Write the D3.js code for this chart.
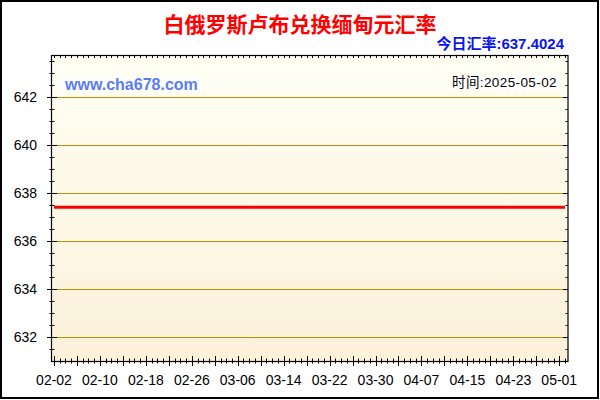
<!DOCTYPE html>
<html>
    <head>
        <meta charset="utf-8">
        <script src="https://d3js.org/d3.v7.min.js"></script>
        <style>
            body{margin:0;background:#fff;}
            text{font-family:"Liberation Sans", Arial, "Noto Sans CJK SC", sans-serif;}
        </style>
    </head>
    <body>
        <svg height="400" width="600" id="chart"></svg>
        <script>
            // data
            const rateDates=["2025-02-02", "2025-05-02"];
            const rateValues=[637.4024, 637.4024];
            const xTickLabels=["02-02","02-10","02-18","02-26","03-06","03-14","03-22","03-30","04-07","04-15","04-23","05-01"];
            const yTickLabels=[632, 634, 636, 638, 640, 642];
            const titleText="白俄罗斯卢布兑换缅甸元汇率";
            const todayText="今日汇率:637.4024";
            const siteText="www.cha678.com";
            const timeText="时间:2025-05-02";

            let svg=d3.select("#chart");
            let plotLeft=52, plotRight=568, plotTop=55, plotBottom=361;
            let parse=d3.timeParse("%Y-%m-%d");

            let x=d3.scaleTime()
                .domain([parse("2025-02-02"), parse("2025-05-02")])
                .range([54, 565]);
            let y=d3.scaleLinear()
                .domain([631, 643.75])
                .range([plotBottom, plotTop]);

            // outer frame
            svg.append("rect")
                .attr("x", 1).attr("y", 1).attr("width", 597).attr("height", 397)
                .style("fill", "#fff").style("stroke", "#000").style("stroke-width", 2);

            let defs=svg.append("defs");
            let grad=defs.append("linearGradient").attr("id", "bg")
                .attr("x1", 0).attr("y1", 0).attr("x2", 0).attr("y2", 1);
            grad.append("stop").attr("offset", "0%").attr("stop-color", "#fffff4");
            grad.append("stop").attr("offset", "100%").attr("stop-color", "#fcf1d9");

            svg.append("rect")
                .attr("x", plotLeft).attr("y", plotTop)
                .attr("width", plotRight-plotLeft).attr("height", plotBottom-plotTop)
                .style("fill", "url(#bg)");

            // grid
            svg.append("g").selectAll("line")
                .data(yTickLabels)
                .join("line")
                .attr("x1", 56).attr("x2", 563)
                .attr("y1", d=>Math.round(y(d))+0.5).attr("y2", d=>Math.round(y(d))+0.5)
                .style("stroke", "#c08c0e").style("stroke-width", 1);

            // ticks
            let days=d3.timeDay.range(parse("2025-02-02"), d3.timeDay.offset(parse("2025-05-02"), 1));
            let halfSteps=d3.range(631.5, 643.75, 0.5);
            let tickG=svg.append("g").style("stroke", "#000").style("stroke-width", 1);

            days.forEach((d,i)=>{
                let px=Math.round(x(d))+0.5;
                let big=i%4==0;
                tickG.append("line").attr("x1", px).attr("x2", px)
                    .attr("y1", plotBottom-(big?5:2.5)).attr("y2", plotBottom+(big?5:2.5));
                tickG.append("line").attr("x1", px).attr("x2", px)
                    .attr("y1", plotTop).attr("y2", plotTop+3);
            });
            halfSteps.forEach(v=>{
                let py=Math.round(y(v))+0.5;
                let big=yTickLabels.includes(v);
                tickG.append("line").attr("y1", py).attr("y2", py)
                    .attr("x1", plotLeft-(big?5:2.5)).attr("x2", plotLeft+(big?5:2.5));
                tickG.append("line").attr("y1", py).attr("y2", py)
                    .attr("x1", plotRight-(big?5:2.5)).attr("x2", plotRight);
            });

            // plot frame
            svg.append("rect")
                .attr("x", plotLeft-0.5).attr("y", plotTop+0.5)
                .attr("width", plotRight-plotLeft+0.5).attr("height", plotBottom-plotTop)
                .style("fill", "none").style("stroke", "#000").style("stroke-width", 1.2);

            // axis labels
            svg.append("g").selectAll("text")
                .data(xTickLabels)
                .join("text")
                .attr("x", d=>x(parse("2025-"+d)))
                .attr("y", 385)
                .attr("text-anchor", "middle")
                .style("font-size", "14px")
                .text(d=>d);
            svg.append("g").selectAll("text")
                .data(yTickLabels)
                .join("text")
                .attr("x", 37)
                .attr("y", d=>y(d)+5)
                .attr("text-anchor", "end")
                .style("font-size", "14px")
                .text(d=>d);

            // rate line
            let line=d3.line()
                .x((d,i)=>x(parse(rateDates[i])))
                .y(d=>y(d));
            svg.append("path")
                .datum(rateValues)
                .attr("d", line)
                .style("fill", "none").style("stroke", "#ff0000").style("stroke-width", 3);

            // titles
            svg.append("text")
                .attr("x", 300).attr("y", 32)
                .attr("text-anchor", "middle")
                .style("font-family", "'Noto Sans CJK SC', sans-serif")
                .style("font-weight", "bold").style("font-size", "21px")
                .style("fill", "#ff0000")
                .text(titleText);
            svg.append("text")
                .attr("x", 564).attr("y", 48.5)
                .attr("text-anchor", "end")
                .style("font-weight", "bold").style("font-size", "15px")
                .style("fill", "#0a14f0")
                .text(todayText);

            let site=svg.append("text")
                .attr("x", 65).attr("y", 90)
                .style("font-weight", "bold").style("font-size", "16px")
                .style("fill", "#5a7cf2")
                .text(siteText);
            let sb=site.node().getBBox();
            svg.insert("rect", ()=>site.node())
                .attr("x", sb.x-3).attr("y", 77).attr("width", sb.width+6).attr("height", 15)
                .style("fill", "#fff");

            let time=svg.append("text")
                .attr("x", 557).attr("y", 87)
                .attr("text-anchor", "end")
                .style("font-size", "13.5px")
                .style("letter-spacing", "0.4px")
                .style("fill", "#000")
                .text(timeText);
            let tb=time.node().getBBox();
            svg.insert("rect", ()=>time.node())
                .attr("x", tb.x-2).attr("y", 75).attr("width", tb.width+4).attr("height", 14)
                .style("fill", "#fff");
        </script>
    </body>
</html>
